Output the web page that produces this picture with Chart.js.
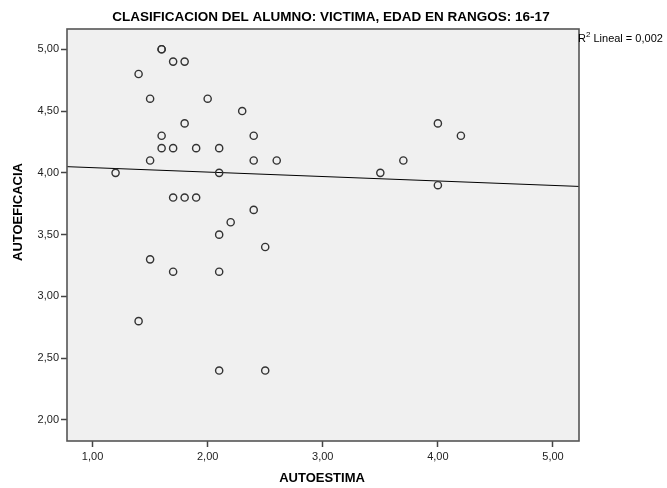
<!DOCTYPE html>
<html>
<head>
<meta charset="utf-8">
<script src="https://cdn.jsdelivr.net/npm/chart.js@4/dist/chart.umd.min.js"></script>
<style>
  body { margin: 0; background: #ffffff; }
</style>
</head>
<body>
<canvas id="chScatter" width="667" height="488"></canvas>
<script>
// data
var autoestima   = [1.6, 1.6, 1.7, 1.8, 1.4, 1.5, 2.0, 2.3, 1.8, 1.6, 2.4, 1.6, 1.7, 1.9, 2.1, 1.5, 2.4, 2.6, 1.2, 2.1,
                    1.7, 1.8, 1.9, 2.4, 2.2, 2.1, 2.5, 1.5, 1.7, 2.1, 1.4, 2.1, 2.5, 4.0, 4.2, 3.7, 3.5, 4.0];
var autoeficacia = [5.0, 5.0, 4.9, 4.9, 4.8, 4.6, 4.6, 4.5, 4.4, 4.3, 4.3, 4.2, 4.2, 4.2, 4.2, 4.1, 4.1, 4.1, 4.0, 4.0,
                    3.8, 3.8, 3.8, 3.7, 3.6, 3.5, 3.4, 3.3, 3.2, 3.2, 2.8, 2.4, 2.4, 4.4, 4.3, 4.1, 4.0, 3.9];

// fit line ends (R2 lineal = 0,002)
var fitX = [0.778, 5.226];
var fitY = [4.05, 3.89];

var xTicks = [1, 2, 3, 4, 5];
var yTicks = [2, 2.5, 3, 3.5, 4, 4.5, 5];

var titleText = 'CLASIFICACION DEL ALUMNO: VICTIMA, EDAD EN RANGOS: 16-17';
var xTitle = 'AUTOESTIMA';
var yTitle = 'AUTOEFICACIA';

window.onload = function onload() {

    var points = autoestima.map(function (v, i) { return { x: v, y: autoeficacia[i] }; });
    var fit = fitX.map(function (v, i) { return { x: v, y: fitY[i] }; });

    function fmt(v) { return v.toFixed(2).replace('.', ','); }

    // background, frame and texts
    var spssPlugin = {
        id: 'spss',
        beforeDraw: function (chart) {
            var ctx = chart.ctx, a = chart.chartArea;
            ctx.save();
            ctx.fillStyle = '#f0f0f0';
            ctx.fillRect(a.left, a.top, a.right - a.left, a.bottom - a.top);
            ctx.restore();
        },
        afterDraw: function (chart) {
            var ctx = chart.ctx, a = chart.chartArea;
            ctx.save();
            ctx.strokeStyle = '#555555';
            ctx.lineWidth = 1.6;
            ctx.strokeRect(a.left, a.top, a.right - a.left, a.bottom - a.top);

            ctx.fillStyle = '#000000';
            ctx.textAlign = 'center';
            ctx.textBaseline = 'middle';
            ctx.font = 'bold 13.5px "Liberation Sans", Arial, sans-serif';
            ctx.fillText(titleText, 331, 17);

            ctx.font = 'bold 13px "Liberation Sans", Arial, sans-serif';
            ctx.fillText(xTitle, 322, 478);

            ctx.save();
            ctx.translate(18, 212);
            ctx.rotate(-Math.PI / 2);
            ctx.fillText(yTitle, 0, 0);
            ctx.restore();

            // R2 label
            ctx.textAlign = 'left';
            ctx.font = '11px "Liberation Sans", Arial, sans-serif';
            ctx.fillText('R', 578, 39);
            var rw = ctx.measureText('R').width;
            ctx.font = '8px "Liberation Sans", Arial, sans-serif';
            ctx.fillText('2', 578 + rw, 35);
            var sw = ctx.measureText('2').width;
            ctx.font = '11px "Liberation Sans", Arial, sans-serif';
            ctx.fillText(' Lineal = 0,002', 578 + rw + sw, 39);
            ctx.restore();
        }
    };

    new Chart(document.getElementById('chScatter'), {
        type: 'scatter',
        data: {
            datasets: [{
                data: points,
                pointStyle: 'circle',
                pointRadius: 3.6,
                pointBorderWidth: 1.4,
                borderColor: '#333333',
                backgroundColor: 'rgba(0,0,0,0)',
                order: 1
            }, {
                type: 'line',
                data: fit,
                borderColor: '#000000',
                borderWidth: 1,
                pointRadius: 0,
                fill: false,
                order: 2
            }]
        },
        options: {
            responsive: false,
            animation: false,
            layout: { padding: { left: 0, right: 88, top: 29, bottom: 0 } },
            plugins: {
                legend: { display: false },
                tooltip: { enabled: false }
            },
            scales: {
                x: {
                    type: 'linear',
                    min: fitX[0],
                    max: fitX[1],
                    afterBuildTicks: function (s) { s.ticks = xTicks.map(function (v) { return { value: v }; }); },
                    afterFit: function (s) { s.height = 47; },
                    grid: { drawOnChartArea: false, tickLength: 6, color: '#444444', tickWidth: 1.5 },
                    border: { display: false },
                    ticks: {
                        color: '#222222',
                        padding: 3,
                        maxRotation: 0,
                        font: { family: '"Liberation Sans", Arial, sans-serif', size: 11 },
                        callback: function (v) { return fmt(v); }
                    }
                },
                y: {
                    type: 'linear',
                    min: 1.83,
                    max: 5.164,
                    afterBuildTicks: function (s) { s.ticks = yTicks.map(function (v) { return { value: v }; }); },
                    afterFit: function (s) { s.width = 67; },
                    grid: { drawOnChartArea: false, tickLength: 6, color: '#444444', tickWidth: 1.5 },
                    border: { display: false },
                    ticks: {
                        color: '#222222',
                        padding: 2,
                        font: { family: '"Liberation Sans", Arial, sans-serif', size: 11 },
                        callback: function (v) { return fmt(v); }
                    }
                }
            }
        },
        plugins: [spssPlugin]
    });
};
</script>
</body>
</html>
